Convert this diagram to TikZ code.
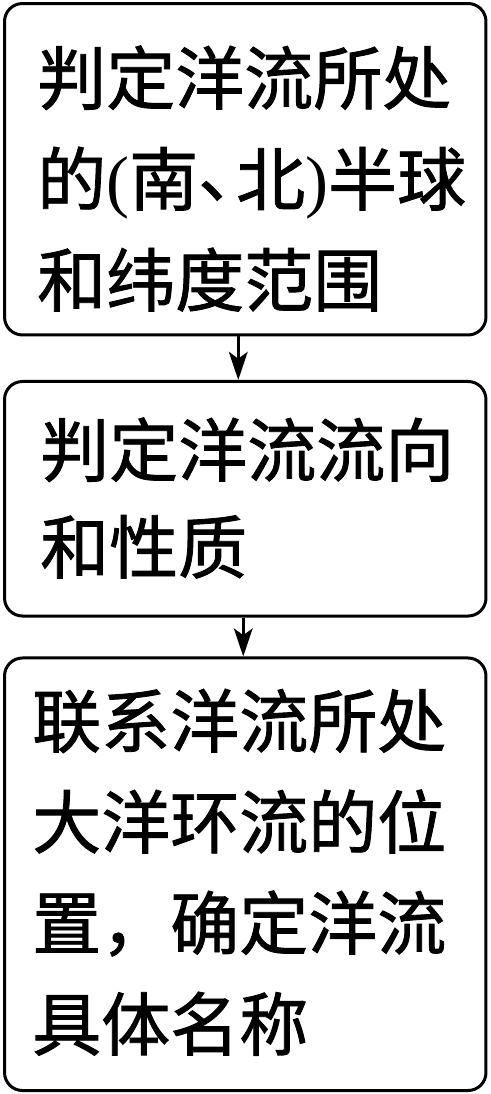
\documentclass[tikz,border=0pt]{standalone}
\usepackage{fontspec}
\setmainfont{Noto Sans CJK SC}[FakeBold=1.2]
\newfontfamily\lat{Liberation Serif}
\usetikzlibrary{arrows.meta}
\tikzset{
  box/.style={draw, line width=2.25pt, rounded corners=13.5pt, minimum width=361.1pt, inner sep=0pt},
  txt/.style={align=left, inner sep=0pt, anchor=base west, font=\fontsize{51.75pt}{75.75pt}\selectfont},
  arr/.style={-{Stealth[length=21pt,width=14pt,inset=5pt]}, line width=2.25pt}
}
\begin{document}
\begin{tikzpicture}[x=0.75pt,y=-0.75pt]
\useasboundingbox (0,0) rectangle (490,1094);
\node[box, minimum height=248.6pt] (b1) at (245.25,169.25) {};
\node[box, minimum height=175.9pt] (b2) at (245.25,498.75) {};
\node[box, minimum height=324.4pt] (b3) at (245.25,874.25) {};
\node[txt] (t1) at (37,306) {判定洋流所处\\的{\lat(}南\raisebox{0.12em}{\makebox[0.55em][l]{、}}北{\lat)}半球\\和纬度范围};
\node[txt, font=\fontsize{51.75pt}{72.75pt}\selectfont] (t2) at (40,573) {判定洋流流向\\和性质};
\node[txt] (t3) at (32,1050) {联系洋流所处\\大洋环流的位\\置，确定洋流\\具体名称};
\draw[arr] ([xshift=-5.25pt]b1.south) -- ([xshift=-5.25pt]b2.north);
\draw[arr] ([xshift=-1.5pt]b2.south) -- ([xshift=-1.5pt]b3.north);
\end{tikzpicture}
\end{document}
